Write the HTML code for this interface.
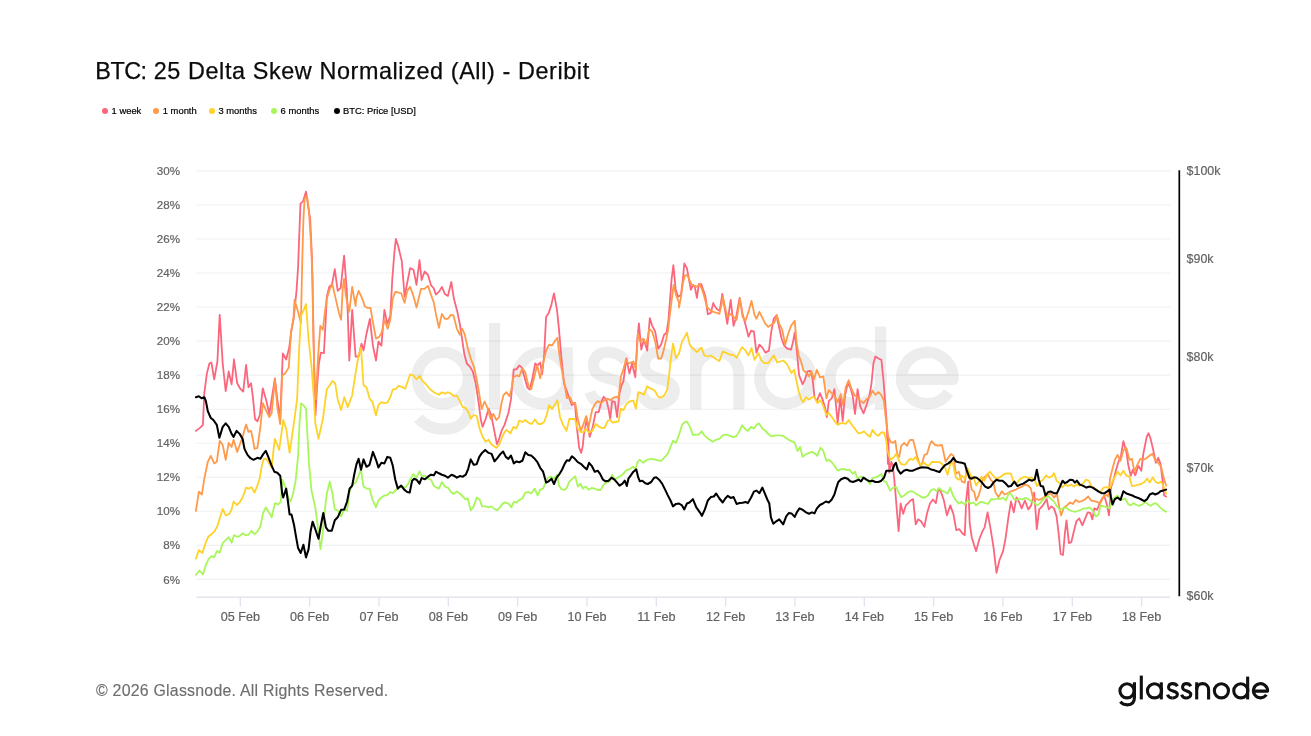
<!DOCTYPE html>
<html><head><meta charset="utf-8"><title>BTC: 25 Delta Skew Normalized (All) - Deribit</title>
<style>
html,body{margin:0;padding:0;background:#fff;}
body{will-change:transform;width:1311px;height:736px;position:relative;overflow:hidden;font-family:"Liberation Sans",sans-serif;}
#title{position:absolute;left:95.3px;top:57.4px;font-size:23.4px;line-height:28px;color:#0b0b0b;white-space:nowrap;letter-spacing:0.6px;-webkit-text-stroke:0.25px #0b0b0b;}
.lg{position:absolute;top:105px;height:11px;line-height:11px;font-size:9.4px;color:#000;white-space:nowrap;-webkit-text-stroke:0.2px #000;}
.dot{position:absolute;top:107.7px;width:6px;height:6px;border-radius:50%;}
#foot{position:absolute;left:96px;top:681.7px;font-size:15.9px;line-height:18px;color:#6e6e6e;white-space:nowrap;letter-spacing:0.23px;-webkit-text-stroke:0.15px #6e6e6e;}
svg{position:absolute;left:0;top:0;}
.xl{font-size:12.6px;fill:#626262;stroke:#626262;stroke-width:0.2px;font-family:"Liberation Sans",sans-serif;}
.yl{font-size:11.6px;fill:#626262;stroke:#626262;stroke-width:0.2px;font-family:"Liberation Sans",sans-serif;}
</style></head><body>
<div id="title"><span style="letter-spacing:-0.5px;margin-right:0px">BTC:</span> 25 Delta Skew Normalized (All) - Deribit</div>
<span class="dot" style="left:101.9px;background:#fc667d"></span><span class="lg" style="left:111.6px">1 week</span>
<span class="dot" style="left:152.8px;background:#ff9a4a"></span><span class="lg" style="left:162.8px">1 month</span>
<span class="dot" style="left:209.1px;background:#ffd22a"></span><span class="lg" style="left:218.4px">3 months</span>
<span class="dot" style="left:271px;background:#a8f65a"></span><span class="lg" style="left:280.6px">6 months</span>
<span class="dot" style="left:333.5px;background:#000"></span><span class="lg" style="left:343px">BTC: Price [USD]</span>
<svg width="1311" height="736" viewBox="0 0 1311 736">
<defs><g id="gn" fill="none" stroke-width="3.1" stroke-linecap="butt" stroke-linejoin="round">
<circle cx="9.00" cy="20.80" r="7.07"/>
<path d="M16.45 12.30 V27.50 C16.45 32.50 13.50 34.85 9.30 34.85 C6.30 34.85 4.00 33.80 2.30 31.80"/>
<path d="M23.30 5.60 V29.40"/>
<circle cx="36.50" cy="20.80" r="7.07"/>
<path d="M43.30 12.30 V29.40"/>
<path d="M59.40 16.20 C58.40 14.40 56.10 13.65 54.60 13.65 C50.40 13.65 50.20 17.20 50.80 18.60 C52.20 21.60 59.00 20.40 59.40 24.20 C59.40 26.60 56.60 27.95 54.30 27.95"/><path d="M54.30 27.95 C51.60 27.95 50.20 26.60 49.60 24.60"/>
<path d="M72.80 16.20 C71.80 14.40 69.83 13.65 68.33 13.65 C64.45 13.65 64.25 17.20 64.85 18.60 C66.25 21.60 72.40 20.40 72.80 24.20 C72.80 26.60 70.33 27.95 68.03 27.95"/><path d="M68.03 27.95 C65.33 27.95 64.25 26.60 63.65 24.60"/>
<path d="M78.70 12.30 V29.40"/>
<path d="M78.70 19.50 C78.70 16.00 81.30 13.65 84.65 13.65 C88.00 13.65 90.60 16.00 90.60 19.80 V29.40"/>
<circle cx="103.40" cy="20.80" r="7.07"/>
<circle cx="122.80" cy="20.80" r="7.07"/>
<path d="M129.65 6.60 V29.40"/>
<path d="M135.43 21.15 H149.57 A7.07 7.07 0 1 0 148.36 24.75"/>
</g></defs>
<use href="#gn" transform="translate(410,302.6) scale(3.63)" stroke="#ededed"/>
<g><line x1="196.5" x2="1170.5" y1="170.90" y2="170.90" stroke="#1a2550" stroke-opacity="0.07" stroke-width="1.1"/>
<line x1="196.5" x2="1170.5" y1="204.94" y2="204.94" stroke="#1a2550" stroke-opacity="0.07" stroke-width="1.1"/>
<line x1="196.5" x2="1170.5" y1="238.98" y2="238.98" stroke="#1a2550" stroke-opacity="0.07" stroke-width="1.1"/>
<line x1="196.5" x2="1170.5" y1="273.02" y2="273.02" stroke="#1a2550" stroke-opacity="0.07" stroke-width="1.1"/>
<line x1="196.5" x2="1170.5" y1="307.06" y2="307.06" stroke="#1a2550" stroke-opacity="0.07" stroke-width="1.1"/>
<line x1="196.5" x2="1170.5" y1="341.10" y2="341.10" stroke="#1a2550" stroke-opacity="0.07" stroke-width="1.1"/>
<line x1="196.5" x2="1170.5" y1="375.14" y2="375.14" stroke="#1a2550" stroke-opacity="0.07" stroke-width="1.1"/>
<line x1="196.5" x2="1170.5" y1="409.18" y2="409.18" stroke="#1a2550" stroke-opacity="0.07" stroke-width="1.1"/>
<line x1="196.5" x2="1170.5" y1="443.22" y2="443.22" stroke="#1a2550" stroke-opacity="0.07" stroke-width="1.1"/>
<line x1="196.5" x2="1170.5" y1="477.26" y2="477.26" stroke="#1a2550" stroke-opacity="0.07" stroke-width="1.1"/>
<line x1="196.5" x2="1170.5" y1="511.30" y2="511.30" stroke="#1a2550" stroke-opacity="0.07" stroke-width="1.1"/>
<line x1="196.5" x2="1170.5" y1="545.34" y2="545.34" stroke="#1a2550" stroke-opacity="0.07" stroke-width="1.1"/>
<line x1="196.5" x2="1170.5" y1="579.38" y2="579.38" stroke="#1a2550" stroke-opacity="0.07" stroke-width="1.1"/>
<line x1="196.5" x2="1170" y1="597.2" y2="597.2" stroke="#e4e4ee" stroke-width="1.4"/></g>
<g><line x1="240.3" x2="240.3" y1="597.2" y2="606.4" stroke="#e4e4ee" stroke-width="1.4"/>
<line x1="309.6" x2="309.6" y1="597.2" y2="606.4" stroke="#e4e4ee" stroke-width="1.4"/>
<line x1="379.0" x2="379.0" y1="597.2" y2="606.4" stroke="#e4e4ee" stroke-width="1.4"/>
<line x1="448.3" x2="448.3" y1="597.2" y2="606.4" stroke="#e4e4ee" stroke-width="1.4"/>
<line x1="517.6" x2="517.6" y1="597.2" y2="606.4" stroke="#e4e4ee" stroke-width="1.4"/>
<line x1="587.0" x2="587.0" y1="597.2" y2="606.4" stroke="#e4e4ee" stroke-width="1.4"/>
<line x1="656.3" x2="656.3" y1="597.2" y2="606.4" stroke="#e4e4ee" stroke-width="1.4"/>
<line x1="725.6" x2="725.6" y1="597.2" y2="606.4" stroke="#e4e4ee" stroke-width="1.4"/>
<line x1="794.9" x2="794.9" y1="597.2" y2="606.4" stroke="#e4e4ee" stroke-width="1.4"/>
<line x1="864.3" x2="864.3" y1="597.2" y2="606.4" stroke="#e4e4ee" stroke-width="1.4"/>
<line x1="933.6" x2="933.6" y1="597.2" y2="606.4" stroke="#e4e4ee" stroke-width="1.4"/>
<line x1="1002.9" x2="1002.9" y1="597.2" y2="606.4" stroke="#e4e4ee" stroke-width="1.4"/>
<line x1="1072.3" x2="1072.3" y1="597.2" y2="606.4" stroke="#e4e4ee" stroke-width="1.4"/>
<line x1="1141.6" x2="1141.6" y1="597.2" y2="606.4" stroke="#e4e4ee" stroke-width="1.4"/></g>
<polyline fill="none" stroke="#fc667d" stroke-width="1.8" stroke-linejoin="round" stroke-linecap="round" points="195.9,430.9 199.9,427.9 202.9,424.9 204.3,393.2 206.9,373.4 209.4,363.5 211.4,362.5 214.2,379.3 217.4,361.5 219.7,314.9 222.7,363.5 225.7,391.2 228.7,371.4 231.6,384.3 234.0,359.5 237.2,383.3 240.0,388.3 243.2,391.6 246.1,365.0 248.5,387.3 251.1,383.3 253.1,399.2 255.0,419.0 257.4,421.4 259.8,415.0 262.8,388.3 266.4,401.1 269.3,414.0 272.3,395.2 274.9,378.3 277.3,399.2 280.2,419.0 282.8,353.5 286.2,359.5 289.2,347.6 291.5,329.7 293.5,319.8 296.5,290.9 298.1,267.1 299.1,239.3 300.5,203.6 303.0,201.3 306.0,191.7 308.4,207.6 310.2,219.5 312.0,259.2 314.0,359.5 315.5,415.0 316.9,389.2 318.9,363.5 320.9,352.6 323.9,353.2 325.5,323.8 326.8,296.8 329.2,286.9 332.0,284.5 334.8,269.1 337.7,290.9 340.7,287.9 344.1,255.6 346.7,288.9 347.7,311.9 349.3,360.5 352.2,309.9 355.6,356.5 358.6,356.5 361.5,343.6 363.5,350.6 366.5,333.7 369.9,318.8 372.9,345.6 376.0,360.5 378.4,341.6 381.4,345.6 384.4,309.9 387.3,323.8 390.3,315.9 392.3,279.0 394.3,253.2 395.9,238.9 398.2,246.3 401.8,261.1 404.6,296.8 407.2,283.0 410.1,268.1 413.5,269.7 416.5,284.9 419.5,260.2 421.6,280.0 424.6,271.5 428.0,275.0 431.0,285.3 433.5,287.9 435.9,294.5 438.9,291.9 441.9,286.9 444.8,293.9 447.9,295.9 451.3,282.0 453.9,298.8 456.9,309.9 459.8,323.8 462.2,339.7 464.2,353.5 466.8,363.5 469.7,366.4 472.7,371.4 475.7,383.3 478.7,403.1 480.7,419.0 482.6,426.9 485.6,419.0 488.6,408.7 491.2,415.0 493.5,426.9 496.9,444.0 498.5,440.8 501.5,430.9 504.5,424.9 508.4,413.0 511.0,399.2 512.4,383.3 513.8,369.4 516.4,369.4 519.3,365.4 521.7,367.4 524.3,376.4 527.3,387.3 529.6,389.6 532.2,379.3 535.2,363.5 537.6,365.4 540.2,362.5 542.1,374.4 544.1,355.5 546.1,316.9 548.7,312.9 551.1,305.9 554.0,293.3 557.0,309.9 559.0,329.7 561.4,357.5 564.0,383.3 566.9,391.2 569.3,398.2 571.9,405.1 574.9,402.7 576.8,426.9 579.2,447.9 581.2,452.9 582.8,445.9 583.8,434.9 586.8,419.0 589.7,436.8 592.7,426.9 595.7,412.1 598.7,412.1 601.6,401.1 603.6,396.8 606.2,399.2 608.6,409.1 610.2,419.0 612.1,401.1 614.9,402.1 617.1,417.0 619.5,393.2 621.5,385.3 623.4,381.3 626.4,358.5 629.4,373.4 632.0,363.5 635.3,377.3 637.3,339.7 638.9,323.4 641.3,349.6 643.9,339.7 647.2,350.6 649.8,318.2 652.2,325.8 655.2,331.7 658.2,348.6 661.1,344.6 664.1,334.7 666.5,332.7 668.5,319.8 671.6,279.0 673.4,265.1 675.6,288.9 678.0,296.8 681.0,294.9 682.9,279.0 684.3,263.5 686.9,268.1 688.9,279.0 690.9,289.9 692.9,284.9 694.8,286.9 696.9,297.8 698.9,284.0 701.5,284.5 703.5,290.9 705.5,296.8 707.8,314.3 710.8,312.9 713.4,302.8 713.4,304.0 716.8,308.9 719.7,310.9 722.3,293.9 727.3,323.8 730.7,299.8 733.6,325.8 736.0,317.8 739.6,298.0 742.6,313.9 745.5,324.8 748.5,336.7 751.1,330.7 753.9,331.7 756.4,352.6 759.4,344.6 762.4,347.6 765.4,352.6 768.9,350.6 771.3,331.7 773.7,318.8 776.3,315.5 778.8,325.8 781.6,338.7 784.2,345.6 787.2,348.6 791.1,349.6 793.1,341.6 794.7,332.7 796.7,349.6 799.1,375.4 802.6,384.3 805.0,379.3 807.4,371.4 810.6,371.0 812.6,379.3 814.5,397.2 816.9,401.1 819.9,393.2 822.5,399.2 824.9,407.1 826.8,417.0 828.8,401.1 831.8,398.2 834.4,389.2 835.8,403.1 837.7,423.0 840.3,397.2 842.7,421.0 845.1,395.2 847.7,383.3 850.2,387.3 852.6,395.2 855.0,414.0 857.6,389.2 860.2,406.1 863.5,413.4 866.5,405.1 869.5,395.2 871.5,383.3 873.4,363.5 875.4,356.5 878.4,358.5 881.4,359.9 883.4,379.3 885.3,403.1 886.7,423.0 887.9,463.8 888.3,438.8 889.3,472.7 891.3,461.8 892.7,464.8 894.3,479.7 896.3,503.5 898.6,531.2 900.6,503.5 903.2,513.8 905.8,505.4 908.2,503.1 910.5,500.5 913.1,499.1 915.7,524.3 918.1,519.3 921.0,521.3 924.4,526.9 927.0,513.4 930.0,503.5 932.9,499.5 935.9,503.1 938.3,489.2 940.9,491.6 943.9,500.5 946.9,515.4 950.3,505.4 953.5,514.4 956.3,530.2 959.4,529.2 962.2,533.2 964.8,535.2 966.2,499.5 968.2,481.6 969.7,523.3 971.7,537.2 974.1,545.1 976.1,551.1 979.3,539.2 982.0,532.2 984.6,527.3 987.6,512.4 990.6,529.2 993.5,547.1 996.5,572.9 999.5,560.0 1003.1,551.1 1005.4,539.2 1008.4,517.3 1011.0,501.5 1013.8,512.4 1016.4,497.5 1018.9,501.5 1021.7,508.4 1024.9,500.5 1028.3,509.4 1031.2,505.4 1034.2,492.6 1036.8,529.2 1039.2,509.4 1042.1,506.4 1044.7,502.5 1046.7,499.1 1048.7,509.4 1051.5,506.4 1054.0,508.4 1056.6,516.4 1058.6,533.2 1060.6,554.0 1063.0,555.0 1064.9,533.2 1066.5,520.3 1068.9,543.1 1071.3,542.1 1073.9,531.2 1076.4,521.3 1079.2,518.3 1082.4,525.3 1084.8,519.3 1087.7,512.4 1090.3,513.0 1092.3,519.3 1094.3,508.4 1097.1,509.8 1099.6,503.5 1101.6,499.5 1104.2,495.5 1106.6,503.5 1109.0,515.4 1111.0,487.6 1113.5,479.7 1116.1,469.7 1118.5,461.8 1120.9,455.9 1123.4,441.2 1126.4,451.9 1128.4,465.8 1130.8,475.7 1132.8,469.7 1135.3,475.3 1138.3,465.8 1141.3,470.7 1143.3,453.9 1145.3,444.0 1146.7,436.8 1148.6,433.3 1150.6,438.8 1153.2,449.9 1155.8,462.8 1158.2,457.8 1160.5,463.8 1162.5,479.7 1164.1,495.5 1166.1,496.5"/>
<polyline fill="none" stroke="#ff9a4a" stroke-width="1.8" stroke-linejoin="round" stroke-linecap="round" points="195.9,511.0 198.9,491.6 201.9,494.5 204.3,478.7 207.8,461.8 210.8,455.9 214.2,463.4 216.8,461.8 219.7,440.8 222.7,445.0 225.7,459.8 228.7,442.8 231.6,446.9 233.6,439.8 237.2,451.9 242.6,436.8 246.1,424.5 248.5,431.9 251.1,430.9 253.5,442.8 254.5,448.9 257.4,447.9 260.4,426.9 262.8,403.1 266.4,411.1 269.3,417.0 271.7,413.0 274.9,379.3 277.3,407.1 280.2,424.0 282.2,375.4 285.2,373.4 288.8,367.4 291.1,331.7 293.5,317.8 294.5,299.8 298.1,311.9 300.9,323.0 302.3,259.2 303.4,219.5 304.6,198.7 307.0,195.7 309.0,211.6 311.0,243.3 312.6,279.0 313.0,319.8 314.5,379.3 315.9,399.2 317.9,359.5 320.3,325.8 322.9,329.7 324.9,311.9 326.8,298.8 329.8,288.9 332.4,284.5 334.8,294.9 338.7,311.9 341.1,319.8 342.7,288.9 344.1,279.0 345.7,294.9 349.3,311.9 352.2,286.9 355.0,302.8 355.6,305.9 356.2,298.8 358.6,290.9 361.5,296.8 363.5,301.8 364.5,305.9 367.5,307.9 370.5,307.9 372.5,319.8 376.0,338.7 379.4,336.7 382.0,331.7 384.4,319.8 387.7,328.8 390.3,319.8 392.7,298.8 395.3,291.9 398.2,292.5 401.2,293.3 404.6,302.8 407.2,290.9 410.1,286.9 413.1,294.9 416.5,307.5 421.0,288.9 424.4,288.9 428.0,285.9 431.0,294.9 433.9,302.8 435.9,313.9 438.9,327.8 441.9,313.9 444.8,318.8 447.9,318.8 450.9,314.9 453.5,315.5 456.9,328.8 459.8,334.7 462.2,328.8 464.8,334.7 467.8,348.6 470.7,358.5 474.1,367.4 476.7,379.3 479.3,394.2 481.6,409.1 484.6,401.5 487.6,408.1 490.6,419.0 493.2,414.0 496.5,420.0 499.1,417.0 501.5,403.1 503.5,395.2 506.4,392.2 509.4,396.2 511.4,389.2 513.4,377.3 516.4,375.4 519.3,376.4 522.3,368.4 525.3,372.4 528.3,385.3 531.2,389.2 534.2,377.3 537.2,365.4 540.2,378.3 543.1,363.5 546.1,350.6 549.1,344.6 552.1,345.6 555.0,340.7 557.4,337.7 559.0,351.6 561.4,367.4 564.0,381.3 566.9,398.2 569.9,397.2 572.5,403.1 575.3,403.1 577.8,419.0 580.8,430.9 583.2,424.9 586.2,416.0 588.7,426.9 592.3,409.1 595.7,403.1 597.7,401.1 600.6,403.1 604.6,400.2 607.6,398.8 610.6,400.2 613.5,397.6 616.5,396.8 618.5,398.2 620.9,376.4 623.4,369.4 626.0,359.5 628.4,363.5 630.8,362.5 633.4,361.5 635.9,369.4 637.9,333.7 640.3,341.6 643.3,338.7 646.3,344.6 649.2,328.8 652.2,331.7 655.2,341.6 658.2,358.5 661.1,358.5 663.1,352.6 666.1,339.7 668.1,329.7 669.7,315.9 673.6,284.9 676.0,294.9 679.0,302.8 679.0,307.5 681.0,296.8 682.9,283.0 684.9,275.6 687.5,275.0 689.9,281.0 691.9,284.9 694.8,285.9 696.9,286.9 699.5,284.0 701.9,288.9 704.3,296.8 706.9,306.9 709.8,309.9 713.4,311.9 716.8,312.9 719.4,313.9 721.7,304.0 722.7,296.8 725.7,309.9 727.7,316.9 730.7,313.9 733.6,316.9 736.6,319.8 740.0,298.8 742.6,316.9 745.5,320.8 748.5,311.9 751.5,300.8 754.5,314.9 756.4,318.8 759.4,311.9 762.4,317.8 765.4,323.8 768.3,326.8 771.3,324.8 774.3,322.8 776.9,314.9 779.2,323.8 782.2,329.7 785.2,344.6 788.2,333.7 791.1,325.8 794.7,320.8 796.7,343.6 798.7,355.5 801.1,361.5 803.4,370.4 807.0,373.4 809.0,376.4 811.4,371.4 814.0,379.3 816.9,369.8 819.9,377.3 823.3,376.4 826.4,398.2 828.8,390.2 831.8,393.2 834.8,396.2 837.7,402.1 840.7,394.2 843.1,405.1 845.7,387.3 848.7,380.3 851.6,389.2 854.6,395.2 857.6,397.2 860.6,401.1 863.5,403.1 866.5,399.2 869.5,397.2 872.5,390.8 875.4,394.8 878.4,392.2 881.4,395.2 884.0,401.1 885.9,419.0 888.3,436.8 890.7,441.8 893.3,442.8 895.3,440.8 897.2,453.9 899.2,456.9 901.2,445.9 904.2,442.8 907.2,445.9 908.2,442.8 910.1,440.0 913.1,440.0 917.1,455.9 920.1,465.8 922.0,463.8 924.4,454.9 927.0,453.9 930.0,444.0 931.6,441.2 934.9,445.0 937.9,445.6 941.9,445.0 943.9,453.9 945.6,461.8 948.3,457.8 950.9,453.9 953.5,455.9 955.9,473.7 958.8,471.7 961.8,481.6 964.8,482.6 966.8,467.8 969.7,478.7 971.7,489.6 974.1,491.6 976.1,500.5 978.7,495.5 980.7,488.6 982.6,478.7 985.2,476.7 987.6,473.7 990.6,479.7 993.5,482.6 995.5,492.6 998.5,497.1 1001.9,491.2 1004.5,494.5 1007.4,493.5 1010.4,491.6 1013.4,490.6 1016.4,489.2 1019.3,487.6 1022.3,486.6 1025.3,484.6 1028.3,485.6 1030.8,488.6 1033.2,498.5 1036.2,499.1 1039.2,499.9 1042.1,498.5 1045.1,496.5 1048.1,494.5 1051.1,493.5 1054.0,497.5 1057.0,494.5 1059.0,505.4 1061.0,515.4 1064.0,507.4 1066.9,505.4 1069.9,502.5 1072.9,503.9 1075.9,499.9 1078.8,501.9 1081.8,501.1 1084.8,499.5 1088.3,496.5 1091.1,500.5 1094.3,501.1 1097.1,501.9 1100.2,503.5 1103.0,497.5 1105.6,494.5 1108.2,496.5 1110.2,477.7 1112.5,468.8 1114.9,459.8 1117.5,454.9 1120.5,460.8 1123.4,449.9 1126.4,447.9 1129.4,459.8 1132.0,458.8 1134.4,471.7 1137.3,464.8 1140.3,458.8 1143.3,459.8 1146.3,458.2 1149.2,455.9 1152.6,453.9 1155.2,459.8 1158.2,462.8 1161.1,466.8 1163.7,477.7 1166.1,485.6"/>
<polyline fill="none" stroke="#ffd22a" stroke-width="1.8" stroke-linejoin="round" stroke-linecap="round" points="195.9,558.6 198.9,550.1 202.3,553.0 205.5,543.1 208.2,536.8 211.4,534.2 214.2,531.6 217.4,526.3 219.7,518.3 222.7,509.0 225.7,515.4 228.7,514.4 231.3,510.4 233.6,501.5 236.6,505.0 239.6,502.5 242.6,497.5 246.1,487.6 248.5,488.6 251.5,487.2 254.5,492.6 257.4,485.6 259.8,477.7 261.8,465.8 263.8,458.8 266.4,458.8 269.3,463.8 271.7,467.8 273.3,451.9 274.9,438.8 279.2,449.9 283.2,420.0 286.2,428.9 289.6,452.9 293.1,428.9 297.1,399.2 299.1,349.6 301.1,315.9 303.4,310.9 306.0,304.0 308.6,339.7 311.4,365.4 314.0,399.2 315.3,423.0 318.5,438.8 322.9,419.0 324.9,403.1 326.8,389.2 329.8,385.3 332.4,380.9 335.2,383.3 337.7,399.2 341.1,410.1 344.3,397.2 347.7,407.1 352.2,395.2 354.6,379.3 358.2,357.5 361.0,347.6 363.5,385.3 366.5,387.3 369.5,398.2 372.5,402.1 376.0,415.4 378.4,405.1 381.4,402.1 384.4,403.1 387.3,402.7 390.3,397.2 392.7,389.6 395.9,388.8 398.6,385.9 401.8,386.9 405.2,388.8 407.8,381.3 410.1,374.4 413.1,375.4 416.5,379.3 419.5,375.8 422.0,380.3 426.0,384.3 430.0,389.2 433.9,392.2 438.9,394.8 441.9,392.2 444.8,393.6 447.9,392.2 450.9,393.6 453.9,396.2 456.9,395.6 459.8,401.1 462.8,407.1 465.8,408.1 468.8,413.0 470.7,418.6 473.7,415.0 476.7,416.0 479.7,428.9 482.6,436.8 485.6,441.8 488.6,439.8 491.6,444.4 496.5,447.9 499.5,444.0 501.5,438.8 503.9,433.3 506.4,429.9 510.4,433.3 513.4,426.9 516.4,428.5 519.3,420.6 522.3,422.0 525.3,420.0 528.3,422.6 531.6,424.0 534.8,419.4 538.2,424.0 541.1,424.0 544.1,422.0 546.7,415.0 549.1,405.1 552.1,409.1 555.0,404.1 557.4,400.2 560.0,417.0 563.0,424.9 566.5,430.9 569.3,419.0 571.9,419.0 574.9,419.0 577.8,428.9 580.8,431.9 583.2,432.5 585.8,428.5 588.7,432.5 592.3,430.9 595.7,424.0 598.7,426.5 601.6,427.9 604.6,427.9 607.6,421.0 610.2,420.0 612.5,422.6 615.5,422.0 618.5,421.4 620.9,408.7 623.4,410.1 626.4,404.1 629.4,401.5 633.4,400.7 635.9,408.7 638.3,392.2 641.3,393.2 643.9,394.8 647.2,386.3 649.8,388.3 652.6,389.2 655.2,391.2 658.2,396.8 661.1,397.6 664.1,395.6 667.1,390.2 669.1,375.4 670.5,361.5 673.0,343.6 676.0,357.9 679.0,353.5 682.0,341.6 684.9,336.7 686.9,332.7 689.9,345.2 692.9,348.6 696.9,352.0 701.5,347.6 704.3,355.5 707.8,356.5 710.8,355.5 713.8,357.5 716.8,359.5 719.4,361.1 722.7,351.6 725.7,352.6 729.7,354.5 733.6,355.1 736.6,357.9 739.6,351.6 742.0,347.2 745.5,350.6 748.5,355.5 751.5,348.0 754.5,359.9 758.4,353.2 761.4,360.5 764.4,363.1 768.3,363.1 771.3,358.5 773.7,355.5 777.3,362.5 780.2,361.5 783.2,360.5 786.8,363.9 789.2,368.4 791.5,373.0 794.1,369.8 796.1,379.3 798.7,391.2 801.1,399.2 803.4,402.1 806.0,397.2 809.0,399.6 812.0,397.2 814.5,396.8 817.3,403.1 820.5,400.2 823.3,406.1 826.4,415.0 828.8,413.0 831.8,417.0 834.8,421.4 837.7,424.9 840.3,423.4 842.7,423.0 845.7,424.0 848.7,420.0 851.6,424.5 855.0,428.9 858.2,433.3 861.0,432.9 864.1,431.3 866.9,434.5 870.1,436.8 872.5,429.9 875.4,433.9 878.0,435.9 881.4,432.5 884.0,432.5 886.3,440.8 887.3,449.9 890.3,459.8 893.3,457.8 896.3,453.9 898.6,459.8 901.2,464.2 905.2,464.8 908.2,460.8 910.5,458.8 913.1,459.8 915.7,456.9 918.1,461.8 921.0,464.8 924.0,462.8 926.4,464.8 929.0,465.8 932.0,461.8 935.9,462.2 939.9,462.2 942.9,464.8 944.8,466.8 947.5,474.7 950.3,463.8 952.9,462.8 955.9,477.7 958.8,479.7 961.8,475.7 964.8,478.7 967.8,468.8 970.7,475.7 973.7,477.7 976.1,485.6 978.7,481.6 981.6,476.7 984.6,480.7 987.2,474.7 990.0,471.7 993.2,475.7 995.9,478.7 999.1,477.7 1001.9,475.7 1005.0,473.7 1007.8,473.3 1011.0,473.7 1013.4,481.6 1016.4,483.6 1019.3,479.7 1022.3,477.7 1025.3,476.7 1028.3,478.1 1031.2,477.3 1034.2,479.7 1037.2,486.0 1040.2,481.6 1043.1,479.7 1046.1,475.3 1048.7,477.7 1051.5,476.7 1054.0,473.3 1056.6,480.7 1059.0,482.6 1062.0,487.6 1064.9,484.6 1067.9,486.0 1070.9,484.6 1073.9,486.6 1076.8,484.6 1079.8,485.6 1082.8,483.6 1085.8,479.7 1088.7,480.7 1091.7,486.6 1094.7,488.6 1097.7,490.6 1100.6,492.0 1103.6,487.6 1106.6,487.2 1109.6,488.6 1111.5,483.6 1114.5,477.7 1117.5,471.7 1120.5,475.3 1123.4,470.7 1126.4,475.7 1129.4,476.7 1132.0,486.0 1135.3,485.6 1138.3,484.6 1141.3,484.0 1144.3,482.0 1147.2,478.7 1149.8,482.6 1152.6,477.3 1155.8,482.0 1158.2,483.2 1161.1,481.6 1163.7,486.6 1166.1,493.5"/>
<polyline fill="none" stroke="#a8f65a" stroke-width="1.8" stroke-linejoin="round" stroke-linecap="round" points="195.9,574.9 199.5,570.5 202.9,574.5 205.9,564.9 208.8,558.6 211.8,556.0 214.2,557.4 216.8,551.1 219.7,552.6 222.7,543.1 225.7,540.2 228.7,537.2 231.6,542.7 234.0,535.2 237.2,536.8 239.6,536.2 242.6,533.2 245.5,535.2 248.5,534.8 251.5,530.8 254.5,534.2 257.4,531.6 260.4,526.3 263.0,513.4 265.8,507.4 268.3,511.4 271.7,517.3 274.9,503.1 278.3,504.5 280.8,501.5 282.2,479.7 285.2,486.6 288.2,497.5 290.7,501.5 293.1,493.5 295.5,481.6 298.1,455.9 299.5,423.0 301.1,403.5 303.4,405.1 306.0,408.7 307.4,434.9 309.0,463.8 311.4,489.6 313.0,497.5 315.3,507.4 317.9,527.3 320.5,549.1 322.5,535.2 324.9,509.4 326.8,493.5 329.8,481.6 332.4,493.5 334.8,509.4 337.7,510.4 341.1,516.4 344.3,509.4 347.1,511.0 349.6,491.6 352.6,484.6 355.6,482.6 358.2,476.7 361.0,469.7 363.5,486.6 366.5,488.6 369.5,488.6 372.5,499.5 376.0,507.4 378.4,500.5 381.4,497.5 384.4,495.5 387.3,495.1 390.3,492.0 392.7,493.2 395.9,490.0 398.6,487.6 401.8,486.6 405.2,487.6 407.8,484.6 410.1,479.7 413.1,474.1 416.5,477.3 419.5,471.3 422.0,476.7 425.0,475.7 428.0,478.7 431.0,479.7 433.9,486.0 436.9,487.6 438.9,488.6 441.9,482.0 444.8,486.6 447.9,487.6 450.9,492.0 453.5,493.9 456.9,491.6 459.8,493.5 462.8,496.5 465.8,499.5 467.8,498.5 470.7,510.4 473.7,506.4 476.7,497.5 479.7,499.5 482.0,506.4 485.6,506.4 488.6,507.4 491.2,506.4 493.9,508.4 497.1,510.4 499.9,507.4 503.1,503.1 505.8,502.5 509.0,503.9 511.4,507.4 513.8,501.9 516.4,502.5 519.3,499.9 522.3,498.5 525.3,492.6 528.3,492.0 531.2,493.5 534.8,488.6 537.6,495.5 540.2,489.6 543.1,488.6 545.5,482.6 548.1,477.7 551.1,476.7 554.0,478.7 557.0,474.7 559.0,485.6 561.4,489.2 564.5,490.0 566.9,487.6 569.3,481.6 572.5,478.7 575.3,476.3 577.8,486.6 580.4,483.6 582.8,488.6 585.8,486.6 588.7,489.6 591.7,488.0 594.7,488.6 597.7,490.0 600.6,490.0 603.6,484.6 606.6,482.6 609.6,481.6 612.1,474.7 614.5,479.7 617.5,477.7 620.5,476.1 623.4,473.7 626.4,470.1 629.4,469.4 632.8,466.8 635.3,468.8 637.9,461.4 639.9,459.8 643.3,462.8 646.3,460.2 650.2,459.0 654.2,459.4 658.2,460.4 661.1,460.8 664.1,457.8 667.7,453.9 670.1,447.9 673.0,440.8 676.0,442.8 679.0,434.9 682.0,424.9 684.9,422.0 686.9,421.4 689.9,426.9 692.9,434.9 698.9,434.5 701.5,431.3 704.3,435.3 707.8,438.4 712.8,441.8 715.8,439.8 719.4,438.8 722.7,435.3 725.7,434.5 729.7,435.9 733.6,437.2 736.6,435.9 739.6,430.9 742.0,425.3 745.1,428.9 747.9,430.9 751.1,426.9 753.9,428.5 756.4,424.9 759.0,423.4 762.4,428.5 765.8,431.3 768.9,434.5 771.7,436.4 775.3,435.3 779.2,435.3 783.2,435.9 787.2,438.8 791.1,441.2 794.7,442.4 795.1,444.0 797.5,450.9 800.1,446.9 802.6,456.9 806.0,454.3 809.0,452.9 812.0,451.9 814.9,453.5 817.3,455.9 820.5,447.5 823.3,450.9 826.4,460.8 828.8,459.8 831.8,462.2 834.8,466.2 837.7,470.7 840.7,469.4 843.7,468.8 846.7,470.1 849.6,469.7 852.6,473.7 855.0,471.7 857.6,478.7 860.6,476.7 863.5,477.7 866.5,479.7 870.1,484.0 872.5,478.1 875.4,477.3 878.4,476.1 881.4,474.1 884.0,481.3 886.3,482.0 888.3,486.6 890.3,490.6 893.3,487.6 896.3,487.2 898.6,492.6 901.2,497.1 904.2,495.5 907.2,492.6 910.1,491.2 913.1,491.6 916.1,493.9 919.1,495.5 922.0,497.5 925.0,497.5 928.0,495.5 931.0,490.0 933.9,489.2 936.9,491.2 938.9,488.0 941.9,490.6 944.8,492.0 947.5,493.5 950.3,487.6 952.9,495.5 955.9,500.5 958.8,503.5 961.8,501.9 964.8,504.5 967.8,500.5 970.7,503.5 973.7,502.5 976.1,505.4 979.3,502.5 982.0,501.9 985.2,503.1 988.0,503.9 991.2,499.1 993.9,499.5 997.1,498.5 999.9,499.1 1003.1,497.5 1005.8,500.5 1009.0,493.2 1011.4,494.5 1013.8,499.1 1016.9,499.9 1019.3,498.5 1022.3,499.5 1025.3,497.9 1028.3,499.1 1031.2,501.5 1034.2,502.5 1037.2,505.4 1040.2,503.1 1043.1,499.5 1046.1,497.1 1048.7,496.5 1051.5,499.5 1054.0,501.5 1057.0,506.4 1060.0,509.8 1063.0,508.4 1065.9,507.4 1068.9,509.8 1071.9,511.0 1074.9,511.8 1077.8,511.0 1080.8,509.8 1083.8,508.4 1086.8,508.4 1089.7,507.4 1092.7,510.4 1095.7,516.4 1098.3,515.0 1100.6,505.4 1103.6,506.4 1106.6,507.0 1109.6,508.4 1112.1,499.5 1114.9,497.5 1117.5,495.5 1120.1,499.1 1122.5,499.5 1125.4,498.5 1128.4,504.5 1130.8,505.4 1133.4,503.1 1136.3,505.0 1139.3,505.8 1142.3,504.5 1145.3,501.9 1148.2,504.5 1150.6,505.8 1153.2,503.9 1155.8,503.1 1158.2,505.4 1161.1,508.4 1163.7,510.4 1166.1,511.8"/>
<polyline fill="none" stroke="#000000" stroke-width="2.05" stroke-linejoin="round" stroke-linecap="round" points="195.9,397.2 198.9,396.2 201.5,398.2 204.3,397.2 205.9,401.1 207.8,411.1 210.8,418.0 213.4,420.0 216.8,424.9 219.4,437.8 222.7,426.9 225.7,423.4 228.7,426.9 231.6,433.9 233.6,436.8 236.6,430.9 239.6,433.9 242.6,438.8 244.5,448.9 247.5,454.9 250.5,458.2 253.5,459.8 257.4,457.8 260.4,458.8 263.4,453.9 265.8,450.9 268.3,456.9 271.3,464.8 274.3,471.7 277.3,472.7 280.2,475.7 282.2,493.5 283.2,497.5 286.2,488.6 288.2,503.5 289.6,514.4 291.5,514.4 294.1,525.3 296.1,537.2 298.1,548.1 300.7,553.0 303.4,544.7 306.0,557.4 308.6,549.1 310.6,531.2 312.6,521.7 315.3,529.2 318.5,538.8 320.9,525.3 323.3,513.0 325.9,527.3 328.4,530.8 331.8,530.8 334.8,520.3 337.7,517.3 341.1,509.8 344.3,509.4 347.1,501.5 349.6,488.6 352.2,485.6 354.6,472.7 356.6,463.8 358.6,458.8 361.0,469.7 363.5,459.4 366.5,466.8 369.5,464.8 372.9,451.9 376.0,459.8 378.4,467.4 381.4,462.8 384.4,463.4 387.3,456.9 390.3,457.8 392.7,465.4 395.3,479.7 397.8,488.6 401.2,485.6 404.2,489.6 407.2,492.0 409.7,492.6 412.1,480.7 414.1,478.7 416.5,479.7 419.5,483.6 421.6,478.1 425.0,479.3 428.0,476.7 431.0,474.7 433.9,475.3 435.9,471.7 438.9,473.3 441.9,474.7 444.8,475.7 447.9,477.7 451.5,474.7 453.9,475.7 456.9,477.7 459.8,476.1 462.8,476.7 465.8,474.7 468.2,468.8 470.7,459.4 473.7,464.8 476.7,464.2 479.3,456.9 482.0,452.9 485.2,449.9 488.6,452.9 491.6,453.9 494.5,461.4 497.5,457.8 500.5,453.9 503.1,451.5 505.8,456.9 508.4,458.8 511.0,455.5 513.8,463.4 516.4,461.4 519.3,462.2 522.3,460.8 525.3,452.3 528.3,454.9 531.2,455.5 534.2,458.2 537.2,461.8 540.2,467.8 543.1,471.7 546.1,482.6 548.7,481.3 551.5,478.7 554.0,484.0 556.6,477.7 559.0,474.7 562.0,469.7 564.9,463.4 566.9,460.2 569.3,460.8 571.9,456.3 574.9,458.8 577.8,462.2 580.8,463.8 583.8,466.8 586.8,469.4 589.1,462.8 591.7,465.8 594.7,471.7 597.7,470.7 600.2,474.1 603.0,479.7 605.6,481.3 608.6,480.7 611.5,477.7 614.5,479.7 617.5,483.2 619.5,485.6 622.5,483.6 624.8,480.7 626.8,486.0 628.4,478.7 630.8,475.3 633.4,471.7 636.3,469.4 638.3,477.7 639.9,481.3 642.3,480.7 645.3,483.2 647.8,484.0 651.2,482.0 654.2,477.7 656.2,477.3 659.1,479.7 662.1,483.6 665.1,489.6 667.7,495.1 670.5,500.5 673.0,506.4 676.0,503.9 679.0,503.5 682.0,505.4 684.3,509.4 686.9,503.5 689.5,502.5 692.9,499.1 696.3,507.4 699.5,511.8 701.9,515.8 704.9,509.4 707.8,500.5 710.8,497.1 713.8,496.5 716.2,493.5 719.4,498.5 722.7,502.5 725.3,498.5 727.7,495.9 730.7,497.9 733.6,497.1 736.6,503.9 739.6,503.1 742.6,502.7 745.5,501.9 747.9,503.1 751.1,497.5 753.9,491.6 756.4,490.6 759.4,493.2 762.4,487.6 765.0,493.9 767.3,499.5 769.3,503.5 770.9,517.3 773.3,523.7 776.3,521.3 779.2,519.3 783.2,524.3 786.2,516.4 788.8,513.0 791.5,513.4 794.7,516.9 797.1,511.8 799.5,508.4 802.6,509.8 806.0,512.4 809.0,513.8 812.0,512.4 814.5,513.4 816.9,508.4 819.9,505.0 822.9,503.5 825.9,501.5 828.8,502.5 831.8,499.5 834.4,494.5 836.4,487.6 838.3,482.0 841.1,479.3 844.7,477.7 847.7,478.7 850.2,481.3 853.0,482.0 856.2,480.7 858.6,479.7 861.0,481.3 863.5,477.7 866.5,479.7 869.5,481.3 872.5,480.7 875.4,482.0 878.4,482.0 881.4,480.7 884.0,477.7 886.3,470.7 889.3,470.7 892.3,470.7 894.3,464.8 895.9,462.8 897.8,469.7 900.6,473.7 903.8,470.7 906.6,469.7 909.7,470.7 912.5,470.7 915.7,469.4 918.5,468.2 922.0,467.2 925.0,467.4 928.0,467.8 931.0,469.4 933.9,470.1 936.9,471.3 939.5,472.1 942.3,468.2 944.8,465.4 945.6,464.8 948.3,463.4 950.9,461.4 953.5,457.8 955.9,461.4 958.8,462.2 961.8,462.8 964.8,463.8 966.8,470.7 969.4,477.7 971.7,478.7 974.1,477.3 976.7,477.7 979.3,479.7 982.0,482.6 985.2,486.6 988.0,488.0 990.6,486.6 993.5,482.6 996.5,479.7 999.5,480.7 1002.5,480.7 1005.4,483.2 1008.4,486.6 1011.0,486.0 1014.4,481.6 1017.3,486.0 1020.3,484.6 1023.3,483.6 1026.3,481.6 1029.2,479.7 1032.2,480.7 1034.8,479.3 1036.8,469.7 1038.8,479.7 1040.7,486.0 1043.1,486.6 1045.5,495.5 1048.1,492.0 1051.1,491.6 1054.0,493.2 1057.0,493.2 1060.0,486.6 1062.6,480.7 1064.9,483.2 1067.3,482.0 1069.9,479.7 1072.9,480.1 1074.9,482.6 1076.8,480.7 1079.8,484.6 1082.8,485.6 1086.4,487.6 1089.7,486.6 1092.7,487.6 1095.7,489.6 1098.7,491.6 1101.6,493.2 1104.6,493.2 1107.6,491.2 1109.6,489.6 1111.0,497.5 1112.5,504.5 1114.9,499.1 1117.5,497.5 1120.5,499.9 1123.4,491.2 1126.4,493.5 1129.4,494.5 1132.4,495.5 1135.3,497.1 1138.3,497.9 1141.3,499.5 1144.3,501.1 1147.2,499.1 1149.8,494.5 1152.6,493.2 1155.2,494.5 1158.2,493.2 1160.5,491.2 1163.1,490.6 1166.1,489.6"/>
<line x1="1179.3" x2="1179.3" y1="170.3" y2="596.2" stroke="#000" stroke-width="1.7"/>
<g><text x="240.3" y="621.0" text-anchor="middle" class="xl">05 Feb</text>
<text x="309.6" y="621.0" text-anchor="middle" class="xl">06 Feb</text>
<text x="379.0" y="621.0" text-anchor="middle" class="xl">07 Feb</text>
<text x="448.3" y="621.0" text-anchor="middle" class="xl">08 Feb</text>
<text x="517.6" y="621.0" text-anchor="middle" class="xl">09 Feb</text>
<text x="587.0" y="621.0" text-anchor="middle" class="xl">10 Feb</text>
<text x="656.3" y="621.0" text-anchor="middle" class="xl">11 Feb</text>
<text x="725.6" y="621.0" text-anchor="middle" class="xl">12 Feb</text>
<text x="794.9" y="621.0" text-anchor="middle" class="xl">13 Feb</text>
<text x="864.3" y="621.0" text-anchor="middle" class="xl">14 Feb</text>
<text x="933.6" y="621.0" text-anchor="middle" class="xl">15 Feb</text>
<text x="1002.9" y="621.0" text-anchor="middle" class="xl">16 Feb</text>
<text x="1072.3" y="621.0" text-anchor="middle" class="xl">17 Feb</text>
<text x="1141.6" y="621.0" text-anchor="middle" class="xl">18 Feb</text></g>
<g><text x="180" y="175.0" text-anchor="end" class="yl">30%</text>
<text x="180" y="209.0" text-anchor="end" class="yl">28%</text>
<text x="180" y="243.1" text-anchor="end" class="yl">26%</text>
<text x="180" y="277.1" text-anchor="end" class="yl">24%</text>
<text x="180" y="311.2" text-anchor="end" class="yl">22%</text>
<text x="180" y="345.2" text-anchor="end" class="yl">20%</text>
<text x="180" y="379.2" text-anchor="end" class="yl">18%</text>
<text x="180" y="413.3" text-anchor="end" class="yl">16%</text>
<text x="180" y="447.3" text-anchor="end" class="yl">14%</text>
<text x="180" y="481.4" text-anchor="end" class="yl">12%</text>
<text x="180" y="515.4" text-anchor="end" class="yl">10%</text>
<text x="180" y="549.4" text-anchor="end" class="yl">8%</text>
<text x="180" y="583.5" text-anchor="end" class="yl">6%</text></g>
<g><text x="1186.6" y="174.6" class="yl" style="font-size:12.4px">$100k</text>
<text x="1186.6" y="262.7" class="yl" style="font-size:12.4px">$90k</text>
<text x="1186.6" y="360.6" class="yl" style="font-size:12.4px">$80k</text>
<text x="1186.6" y="472.0" class="yl" style="font-size:12.4px">$70k</text>
<text x="1186.6" y="600.0" class="yl" style="font-size:12.4px">$60k</text></g>
<use href="#gn" transform="translate(1118,670)" stroke="#111"/>
</svg>
<div id="foot">© 2026 Glassnode. All Rights Reserved.</div>
</body></html>
